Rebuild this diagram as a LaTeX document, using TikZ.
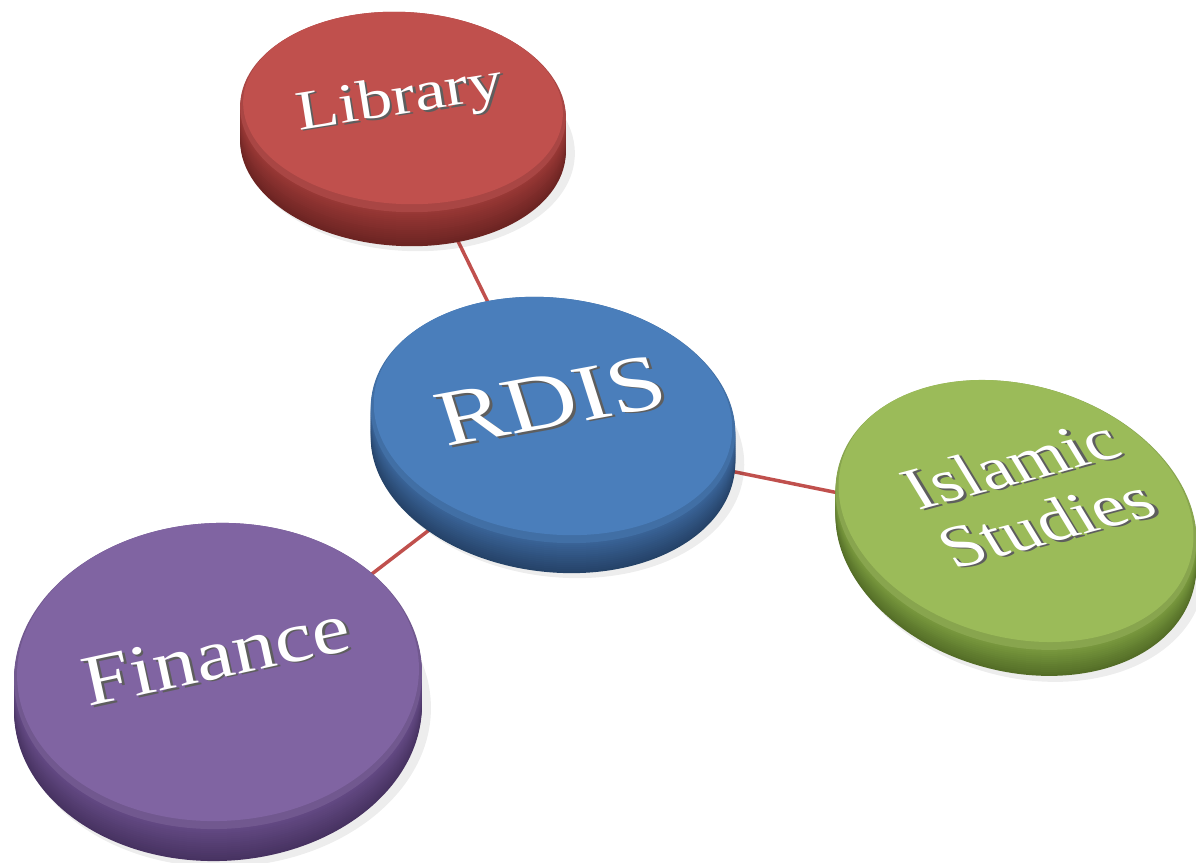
\documentclass[tikz,border=0pt]{standalone}
\usepackage{fontspec}
\setmainfont{Liberation Serif}
\usetikzlibrary{shapes.geometric,backgrounds}

\definecolor{libtop}{HTML}{C0504D}
\definecolor{libside}{HTML}{9A3936}
\definecolor{libdeep}{HTML}{662120}
\definecolor{rdistop}{HTML}{4A7EBB}
\definecolor{rdisside}{HTML}{3A6498}
\definecolor{rdisdeep}{HTML}{233F63}
\definecolor{islamtop}{HTML}{9BBB59}
\definecolor{islamside}{HTML}{7A9A3F}
\definecolor{islamdeep}{HTML}{4F6824}
\definecolor{fintop}{HTML}{8064A2}
\definecolor{finside}{HTML}{644A84}
\definecolor{findeep}{HTML}{432F5C}
\definecolor{linkred}{HTML}{C0504D}
\definecolor{embossgray}{HTML}{5E5E5E}

\newcommand{\embossed}[1]{\leavevmode\rlap{\textcolor{embossgray}{\kern2pt\raisebox{-2pt}{#1}}}#1}

\tikzset{
  disc/.style={ellipse, inner sep=0pt, outer sep=0pt},
  disclabel/.style={text=white, inner sep=0pt},
  link/.style={draw=linkred, line width=3.5pt},
  glow/.style={fill=black, opacity=0.07},
}

\begin{document}
\begin{tikzpicture}[x=1pt,y=1pt]
\useasboundingbox (0,0) rectangle (1196,862);

% Library
\fill[glow, shift={(409,714)}, rotate=-3] (0,0) ellipse (166pt and 103pt);
\foreach \d [evaluate=\d as \p using int(100-2.6*\d)] in {34,32,...,2}
  \fill[libside!\p!libdeep, shift={(403,750-\d)}, rotate=-3] (0,0) ellipse (163pt and 100pt);
\node[disc, fill=libtop!88!black, minimum width=326pt, minimum height=200pt, rotate=-3] (lib) at (403,750) {};
\fill[libtop, shift={(403,754)}, rotate=-3] (0,0) ellipse (160pt and 96pt);
\node[disclabel, anchor=base, rotate=9, xscale=1.24, font=\fontsize{56}{64}\selectfont] (libtext) at (402,748) {\embossed{Library}};

% RDIS
\fill[glow, shift={(559,410)}, rotate=-7] (0,0) ellipse (186pt and 125pt);
\foreach \d [evaluate=\d as \p using int(100-3*\d)] in {30,28,...,2}
  \fill[rdisside!\p!rdisdeep, shift={(553,442-\d)}, rotate=-7] (0,0) ellipse (183pt and 122pt);
\node[disc, fill=rdistop!88!black, minimum width=366pt, minimum height=244pt, rotate=-7] (rdis) at (553,442) {};
\fill[rdistop, shift={(553,446)}, rotate=-7] (0,0) ellipse (180pt and 118pt);
\node[disclabel, anchor=base, rotate=10.5, xscale=1.26, xslant=-0.1, font=\fontsize{80}{88}\selectfont] (rdistext) at (559,436) {\embossed{RDIS}};

% Islamic Studies
\fill[glow, shift={(1022,318)}, rotate=-16] (0,0) ellipse (187pt and 133pt);
\foreach \d [evaluate=\d as \p using int(100-3.4*\d)] in {26,24,...,2}
  \fill[islamside!\p!islamdeep, shift={(1016,347-\d)}, rotate=-16] (0,0) ellipse (184pt and 130pt);
\node[disc, fill=islamtop!88!black, minimum width=368pt, minimum height=260pt, rotate=-16] (islam) at (1016,347) {};
\fill[islamtop, shift={(1016,351)}, rotate=-16] (0,0) ellipse (181pt and 126pt);
\node[disclabel, align=center, rotate=15, xscale=1.17, xslant=-0.25, font=\fontsize{62}{66}\selectfont] (islamtext) at (1029,368) {\embossed{Islamic}\\\embossed{Studies}};

% Finance
\fill[glow, shift={(224,151)}, rotate=2] (0,0) ellipse (207pt and 156pt);
\foreach \d [evaluate=\d as \p using int(100-2.7*\d)] in {32,30,...,2}
  \fill[finside!\p!findeep, shift={(218,186-\d)}, rotate=2] (0,0) ellipse (204pt and 153pt);
\node[disc, fill=fintop!88!black, minimum width=408pt, minimum height=306pt, rotate=2] (fin) at (218,186) {};
\fill[fintop, shift={(218,190)}, rotate=2] (0,0) ellipse (201pt and 149pt);
\node[disclabel, anchor=base, rotate=12.3, xscale=1.19, font=\fontsize{72}{80}\selectfont] (fintext) at (221,184) {\embossed{Finance}};

\begin{pgfonlayer}{background}
  \draw[link] ([yshift=-17pt]lib.center) -- ([yshift=-15pt]rdis.center);
  \draw[link] ([yshift=-15pt]rdis.center) -- ([yshift=-14pt]islam.center);
  \draw[link] ([yshift=-15pt]rdis.center) -- ([yshift=-16pt]fin.center);
\end{pgfonlayer}
\end{tikzpicture}
\end{document}
